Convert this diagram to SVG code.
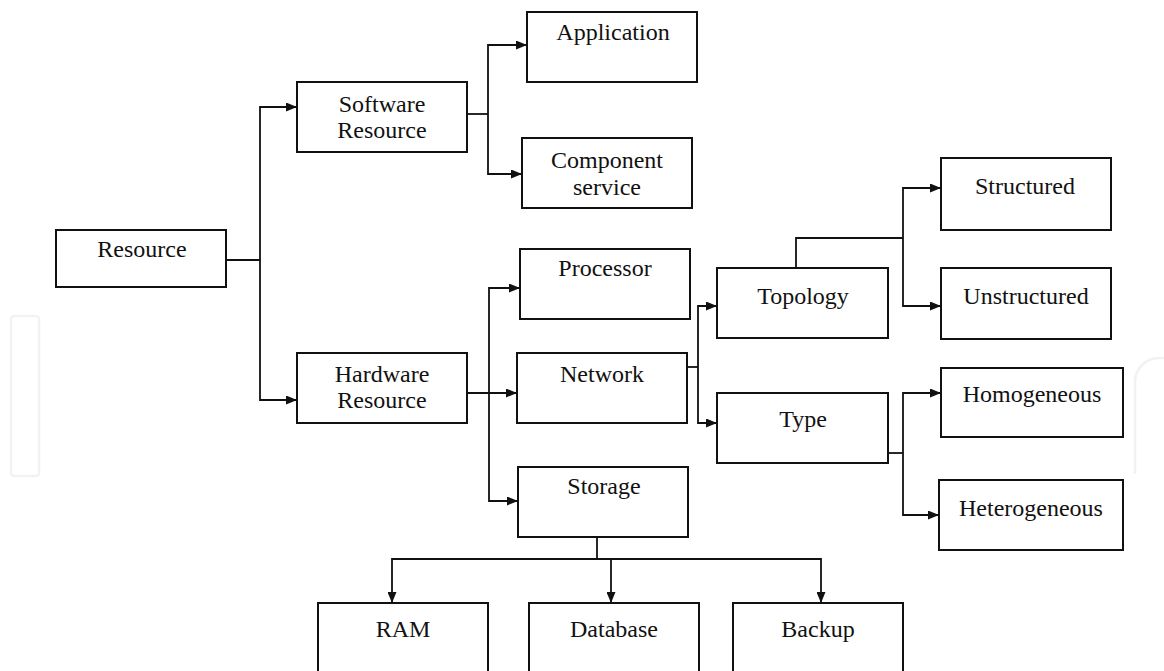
<svg xmlns="http://www.w3.org/2000/svg" width="1164" height="671" viewBox="0 0 1164 671">
  <style>
    .box { fill: #ffffff; stroke: #111111; stroke-width: 2; }
    .lbl { font-family: 'Liberation Serif', 'Times New Roman', 'DejaVu Serif', serif; font-size: 24px; fill: #111111; text-anchor: middle; }
    .conn { fill: none; stroke: #111111; stroke-width: 1.8; }
    .wm { fill: none; stroke: #f1f2f2; stroke-width: 2.5; }
  </style>
  <defs>
    <marker id="arrow" markerUnits="userSpaceOnUse" markerWidth="11" markerHeight="9" refX="11" refY="4.5" orient="auto">
      <path d="M0,0 L11,4.5 L0,9 z" fill="#111111"/>
    </marker>
  </defs>
  <rect width="1164" height="671" fill="#ffffff"/>

  <g id="watermark">
    <rect class="wm" x="11" y="316" width="28" height="160" rx="3"/>
    <path class="wm" d="M1135,474 V382 A24,24 0 0 1 1159,358 H1164"/>
  </g>

  <g id="connectors">
    <path class="conn" d="M226,260 H260"/>
    <path class="conn" d="M260,260 V107 H297" marker-end="url(#arrow)"/>
    <path class="conn" d="M260,260 V400 H297" marker-end="url(#arrow)"/>

    <path class="conn" d="M467,114 H488"/>
    <path class="conn" d="M488,114 V45 H527" marker-end="url(#arrow)"/>
    <path class="conn" d="M488,114 V174 H522" marker-end="url(#arrow)"/>

    <path class="conn" d="M467,393 H517" marker-end="url(#arrow)"/>
    <path class="conn" d="M489,393 V288 H520" marker-end="url(#arrow)"/>
    <path class="conn" d="M489,393 V501 H518" marker-end="url(#arrow)"/>

    <path class="conn" d="M687,367 H698"/>
    <path class="conn" d="M698,367 V306 H717" marker-end="url(#arrow)"/>
    <path class="conn" d="M698,367 V423 H717" marker-end="url(#arrow)"/>

    <path class="conn" d="M796,268 V238 H903"/>
    <path class="conn" d="M903,238 V188 H941" marker-end="url(#arrow)"/>
    <path class="conn" d="M903,238 V306 H941" marker-end="url(#arrow)"/>

    <path class="conn" d="M888,453 H903"/>
    <path class="conn" d="M903,453 V393 H941" marker-end="url(#arrow)"/>
    <path class="conn" d="M903,453 V515 H939" marker-end="url(#arrow)"/>

    <path class="conn" d="M597,537 V559"/>
    <path class="conn" d="M597,559 H392 V603" marker-end="url(#arrow)"/>
    <path class="conn" d="M597,559 H611 V603" marker-end="url(#arrow)"/>
    <path class="conn" d="M597,559 H821 V603" marker-end="url(#arrow)"/>
  </g>

  <g id="resource">
    <rect class="box" x="56" y="230" width="170" height="57"/>
    <text class="lbl" x="142" y="257">Resource</text>
  </g>
  <g id="software-resource">
    <rect class="box" x="297" y="82" width="170" height="70"/>
    <text class="lbl" x="382" y="112">Software</text>
    <text class="lbl" x="382" y="138">Resource</text>
  </g>
  <g id="application">
    <rect class="box" x="527" y="12" width="170" height="70"/>
    <text class="lbl" x="613" y="40">Application</text>
  </g>
  <g id="component-service">
    <rect class="box" x="522" y="138" width="170" height="70"/>
    <text class="lbl" x="607" y="168">Component</text>
    <text class="lbl" x="607" y="195">service</text>
  </g>
  <g id="hardware-resource">
    <rect class="box" x="297" y="353" width="170" height="70"/>
    <text class="lbl" x="382" y="382">Hardware</text>
    <text class="lbl" x="382" y="408">Resource</text>
  </g>
  <g id="processor">
    <rect class="box" x="520" y="249" width="170" height="70"/>
    <text class="lbl" x="605" y="276">Processor</text>
  </g>
  <g id="network">
    <rect class="box" x="517" y="353" width="170" height="70"/>
    <text class="lbl" x="602" y="382">Network</text>
  </g>
  <g id="storage">
    <rect class="box" x="518" y="467" width="170" height="70"/>
    <text class="lbl" x="604" y="494">Storage</text>
  </g>
  <g id="topology">
    <rect class="box" x="717" y="268" width="171" height="70"/>
    <text class="lbl" x="803" y="304">Topology</text>
  </g>
  <g id="type">
    <rect class="box" x="717" y="393" width="171" height="70"/>
    <text class="lbl" x="803" y="427">Type</text>
  </g>
  <g id="structured">
    <rect class="box" x="941" y="158" width="170" height="72"/>
    <text class="lbl" x="1025" y="194">Structured</text>
  </g>
  <g id="unstructured">
    <rect class="box" x="941" y="268" width="170" height="71"/>
    <text class="lbl" x="1026" y="304">Unstructured</text>
  </g>
  <g id="homogeneous">
    <rect class="box" x="941" y="368" width="182" height="69"/>
    <text class="lbl" x="1032" y="402">Homogeneous</text>
  </g>
  <g id="heterogeneous">
    <rect class="box" x="939" y="480" width="184" height="70"/>
    <text class="lbl" x="1031" y="516">Heterogeneous</text>
  </g>
  <g id="ram">
    <rect class="box" x="318" y="603" width="170" height="72"/>
    <text class="lbl" x="403" y="637">RAM</text>
  </g>
  <g id="database">
    <rect class="box" x="529" y="603" width="170" height="72"/>
    <text class="lbl" x="614" y="637">Database</text>
  </g>
  <g id="backup">
    <rect class="box" x="733" y="603" width="170" height="72"/>
    <text class="lbl" x="818" y="637">Backup</text>
  </g>
</svg>
